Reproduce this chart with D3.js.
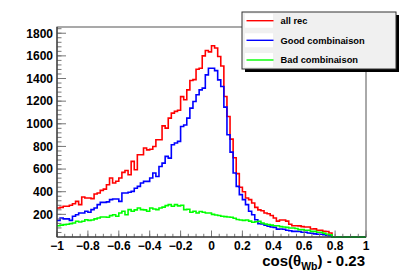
<!DOCTYPE html>
<html>
<head>
<meta charset="utf-8">
<script src="https://cdn.jsdelivr.net/npm/d3@7"></script>
<style>
  body { margin: 0; background: #fff; }
  text { font-family: "Liberation Sans", Arial, Helvetica, sans-serif; font-weight: bold; }
</style>
</head>
<body>
<div id="chart"></div>
<script>
// 100 bins from -1 to 1 (width 0.02)
const binLow = -1, binHigh = 1, nBins = 100;

const allRec = [
  256, 262, 271, 271, 280, 294, 315, 286, 353, 345,
  345, 339, 380, 389, 412, 423, 462, 521, 477, 492,
  521, 571, 588, 550, 668, 594, 727, 727, 786, 770,
  775, 800, 859, 859, 982, 962, 1050, 1094, 1110, 1120,
  1240, 1212, 1300, 1382, 1390, 1482, 1491, 1600, 1647, 1635,
  1690, 1670, 1594, 1511, 1241, 1064, 865, 700, 560, 440,
  400, 345, 330, 300, 262, 240, 232, 212, 205, 190,
  168, 140, 150, 150, 140, 112, 100, 100, 98, 92,
  89, 88, 71, 72, 59, 60, 50, 48, 36, 0,
  0, 0, 0, 0, 0, 0, 0, 0, 0, 0
];

const goodComb = [
  147, 168, 160, 160, 147, 183, 197, 212, 212, 227,
  218, 242, 256, 286, 306, 306, 310, 330, 336, 336,
  315, 389, 389, 395, 403, 430, 447, 477, 491, 491,
  521, 565, 535, 623, 653, 712, 697, 815, 830, 845,
  976, 990, 1050, 1138, 1197, 1256, 1300, 1315, 1432, 1491,
  1491, 1470, 1388, 1329, 1147, 903, 750, 565, 447, 374,
  330, 286, 227, 197, 153, 118, 115, 105, 95, 89,
  85, 70, 71, 68, 59, 55, 50, 50, 48, 42,
  42, 35, 33, 28, 24, 24, 20, 15, 12, 0,
  0, 0, 0, 0, 0, 0, 0, 0, 0, 0
];

const badComb = [
  100, 105, 109, 112, 118, 124, 139, 133, 139, 153,
  147, 150, 160, 168, 177, 177, 175, 189, 197, 183,
  212, 227, 197, 242, 227, 240, 256, 242, 240, 227,
  256, 248, 242, 256, 264, 277, 286, 271, 286, 275,
  280, 242, 245, 218, 227, 212, 225, 218, 212, 212,
  200, 195, 190, 183, 180, 177, 175, 165, 155, 150,
  147, 150, 140, 130, 135, 139, 124, 115, 109, 105,
  100, 100, 92, 89, 85, 80, 80, 75, 65, 65,
  60, 59, 50, 50, 42, 42, 33, 24, 20, 0,
  0, 0, 0, 0, 0, 0, 0, 0, 0, 0
];

const seriesNames = ["all rec", "Good combinaison", "Bad combinaison"];
const seriesColors = ["#ff0000", "#0000ff", "#00ff00"];

const xTicks = [-1, -0.8, -0.6, -0.4, -0.2, 0, 0.2, 0.4, 0.6, 0.8, 1];
const yTicks = [200, 400, 600, 800, 1000, 1200, 1400, 1600, 1800];
const yMax = 1855;

const width = 407, height = 276;
const frame = { left: 57, right: 366, top: 27, bottom: 237 };

const svg = d3.select("#chart").append("svg")
  .attr("width", width)
  .attr("height", height);

const x = d3.scaleLinear().domain([binLow, binHigh]).range([frame.left, frame.right]);
const y = d3.scaleLinear().domain([0, yMax]).range([frame.bottom, frame.top]);

// frame
svg.append("rect")
  .attr("x", frame.left).attr("y", frame.top)
  .attr("width", frame.right - frame.left)
  .attr("height", frame.bottom - frame.top)
  .attr("fill", "#fff")
  .attr("stroke", "#555")
  .attr("stroke-width", 1);

// histograms
const binW = (binHigh - binLow) / nBins;
const stepLine = d3.line()
  .x(d => x(d[0]))
  .y(d => y(d[1]))
  .curve(d3.curveStepAfter);

function histPoints(vals) {
  const pts = vals.map((v, i) => [binLow + i * binW, v]);
  pts.push([binHigh, vals[vals.length - 1]]);
  return pts;
}

const allSeries = [allRec, goodComb, badComb];
const plot = svg.append("g");
allSeries.forEach((vals, k) => {
  plot.append("path")
    .attr("d", stepLine(histPoints(vals)))
    .attr("fill", "none")
    .attr("stroke", seriesColors[k])
    .attr("stroke-width", 1.6)
    .attr("stroke-linejoin", "miter");
});

// x axis (ticks pointing up)
const xAxisG = svg.append("g").attr("transform", `translate(0,${frame.bottom})`);
const xMinor = d3.range(-1, 1.0001, 0.05);
xAxisG.selectAll("line.minor").data(xMinor).join("line")
  .attr("class", "minor")
  .attr("x1", d => x(d)).attr("x2", d => x(d))
  .attr("y1", 0).attr("y2", -3.2)
  .attr("stroke", "#777");
xAxisG.selectAll("line.major").data(xTicks).join("line")
  .attr("class", "major")
  .attr("x1", d => x(d)).attr("x2", d => x(d))
  .attr("y1", 0).attr("y2", -6.5)
  .attr("stroke", "#777");
xAxisG.append("line")
  .attr("x1", frame.left).attr("x2", frame.right)
  .attr("stroke", "#222");
xAxisG.selectAll("text").data(xTicks).join("text")
  .attr("x", d => x(d))
  .attr("y", 13)
  .attr("text-anchor", "middle")
  .attr("font-size", 12)
  .text(d => d3.format("")(d));

// y axis (ticks pointing right)
const yAxisG = svg.append("g").attr("transform", `translate(${frame.left},0)`);
const yMinor = d3.range(0, yMax, 40);
yAxisG.selectAll("line.minor").data(yMinor).join("line")
  .attr("class", "minor")
  .attr("y1", d => y(d)).attr("y2", d => y(d))
  .attr("x1", 0).attr("x2", 4.5)
  .attr("stroke", "#777");
yAxisG.selectAll("line.major").data(yTicks).join("line")
  .attr("class", "major")
  .attr("y1", d => y(d)).attr("y2", d => y(d))
  .attr("x1", 0).attr("x2", 9)
  .attr("stroke", "#777");
yAxisG.append("line")
  .attr("y1", frame.top).attr("y2", frame.bottom)
  .attr("stroke", "#222");
yAxisG.selectAll("text").data(yTicks).join("text")
  .attr("x", -4)
  .attr("y", d => y(d) + 4.3)
  .attr("text-anchor", "end")
  .attr("font-size", 12)
  .text(d => d);

// x title
const title = svg.append("text")
  .attr("x", 365)
  .attr("y", 266)
  .attr("text-anchor", "end")
  .attr("font-size", 15);
title.append("tspan").text("cos(\u03b8");
title.append("tspan").attr("font-size", 10.5).attr("dy", 3.5).text("Wb");
title.append("tspan").attr("dy", -3.5).text(") - 0.23");

// legend
const lg = { x: 242, y: 12, w: 154, h: 57 };
const legend = svg.append("g");
legend.append("rect")
  .attr("x", lg.x + 3).attr("y", lg.y + 3)
  .attr("width", lg.w).attr("height", lg.h)
  .attr("fill", "#000");
legend.append("rect")
  .attr("x", lg.x).attr("y", lg.y)
  .attr("width", lg.w).attr("height", lg.h)
  .attr("fill", "#f0f0f0")
  .attr("stroke", "#333")
  .attr("stroke-width", 1);

const rowY = [20.7, 40.3, 60];
seriesNames.forEach((name, k) => {
  legend.append("rect")
    .attr("x", 245).attr("y", rowY[k] - 7)
    .attr("width", 28).attr("height", 14)
    .attr("fill", "#fff");
  legend.append("line")
    .attr("x1", 246.5).attr("x2", 273.5)
    .attr("y1", rowY[k]).attr("y2", rowY[k])
    .attr("stroke", seriesColors[k])
    .attr("stroke-width", 1.4);
  legend.append("text")
    .attr("x", 280.5)
    .attr("y", rowY[k] + 3.4)
    .attr("font-size", 9.3)
    .text(name);
});
</script>
</body>
</html>
